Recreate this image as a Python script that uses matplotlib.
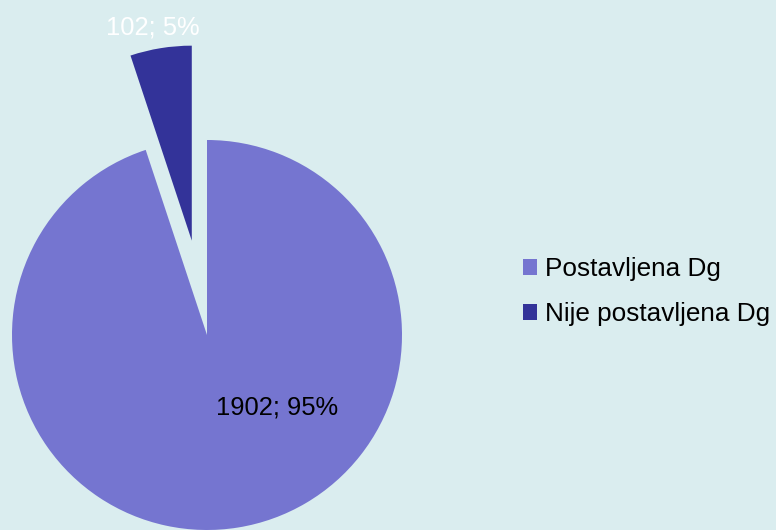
import matplotlib
matplotlib.use("Agg")
import matplotlib.pyplot as plt

# Data
categories = ["Postavljena Dg", "Nije postavljena Dg"]
counts = [1902, 102]
colors = ["#7575D0", "#333399"]
bg = "#DAEDEF"

plt.rcParams["font.family"] = ["Liberation Sans", "DejaVu Sans"]

fig = plt.figure(figsize=(7.76, 5.30), dpi=100, facecolor=bg)
ax = fig.add_axes([0, 0, 1, 1])
ax.set_facecolor(bg)
ax.set_xlim(0, 776)
ax.set_ylim(0, 530)
ax.set_aspect("equal")
ax.axis("off")

total = sum(counts)
R = 195


def fmt(pct):
    n = int(round(pct * total / 100.0))
    return f"{n}; {pct:.0f}%"


wedges, texts, autotexts = ax.pie(
    counts,
    colors=colors,
    startangle=90,
    counterclock=False,
    explode=[0, 0.49 * R],
    center=(207, 195),
    radius=R,
    autopct=fmt,
    pctdistance=1.13,
    wedgeprops=dict(linewidth=0),
    textprops=dict(fontsize=18.4),
)
ax.set_xlim(0, 776)
ax.set_ylim(0, 530)

# label positions
autotexts[0].set_position((277, 122))
autotexts[0].set_color("black")
autotexts[1].set_color("white")
autotexts[1].set_position((153, 503))

leg = ax.legend(
    wedges, categories,
    loc="upper left",
    bbox_to_anchor=(523 / 776, 1 - 257 / 530),
    frameon=False,
    fontsize=18.8,
    handlelength=0.55,
    handleheight=0.55,
    handletextpad=0.3,
    labelspacing=0.8,
    borderaxespad=0,
    borderpad=0,
)

fig.savefig("out.png", dpi=100, facecolor=bg)
